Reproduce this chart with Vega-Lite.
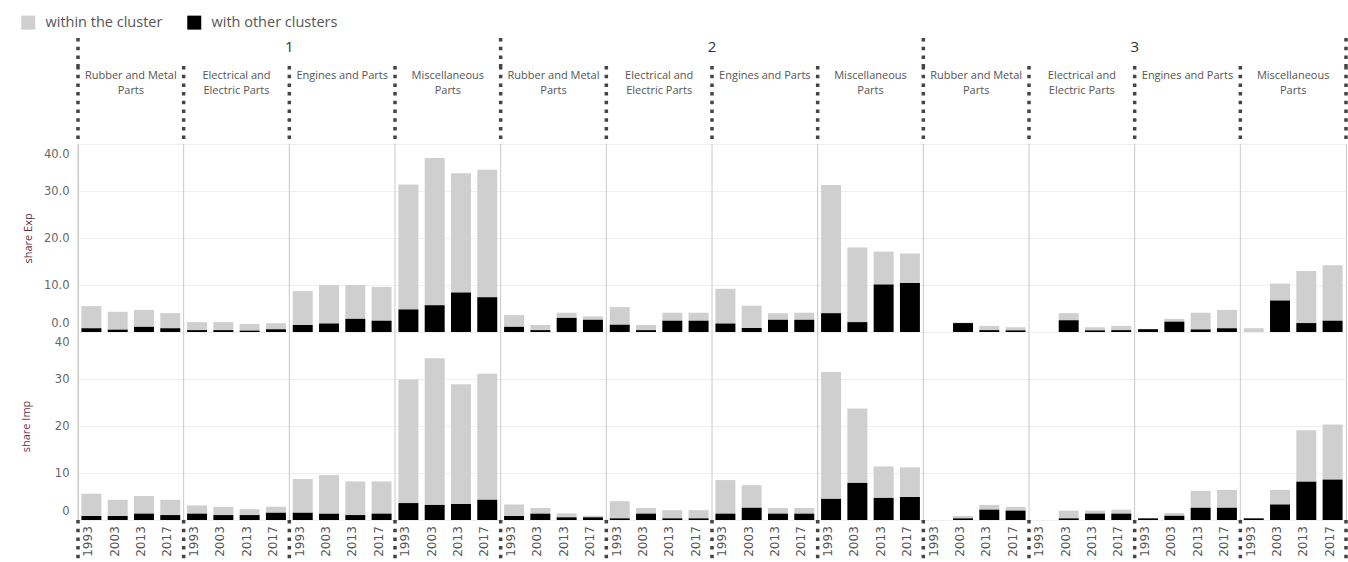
{
  "$schema": "https://vega.github.io/schema/vega-lite/v6.json",
  "padding": {"left": 19, "top": 14, "right": 0, "bottom": 0},
  "spacing": 0,
  "bounds": "flush",
  "config": {
    "view": {"stroke": null},
    "font": "Open Sans",
    "text": {"font": "Open Sans"}
  },
  "resolve": {
    "scale": {"y": "independent", "color": "independent"},
    "axis": {"y": "independent"},
    "legend": {"color": "independent"}
  },
  "datasets": {
    "panels": [
      {"p": "1-1", "c": "1", "k": 1, "lab": "Rubber and Metal\nParts"},
      {"p": "1-2", "c": "1", "k": 2, "lab": "Electrical and\nElectric Parts"},
      {"p": "1-3", "c": "1", "k": 3, "lab": "Engines and Parts"},
      {"p": "1-4", "c": "1", "k": 4, "lab": "Miscellaneous\nParts"},
      {"p": "2-1", "c": "2", "k": 1, "lab": "Rubber and Metal\nParts"},
      {"p": "2-2", "c": "2", "k": 2, "lab": "Electrical and\nElectric Parts"},
      {"p": "2-3", "c": "2", "k": 3, "lab": "Engines and Parts"},
      {"p": "2-4", "c": "2", "k": 4, "lab": "Miscellaneous\nParts"},
      {"p": "3-1", "c": "3", "k": 1, "lab": "Rubber and Metal\nParts"},
      {"p": "3-2", "c": "3", "k": 2, "lab": "Electrical and\nElectric Parts"},
      {"p": "3-3", "c": "3", "k": 3, "lab": "Engines and Parts"},
      {"p": "3-4", "c": "3", "k": 4, "lab": "Miscellaneous\nParts"}
    ],
    "bars": [
      {"p": "1-1", "y": "1993", "m": "Exp", "within": 4.7, "other": 0.8},
      {"p": "1-1", "y": "2003", "m": "Exp", "within": 3.8, "other": 0.5},
      {"p": "1-1", "y": "2013", "m": "Exp", "within": 3.6, "other": 1.1},
      {"p": "1-1", "y": "2017", "m": "Exp", "within": 3.2, "other": 0.8},
      {"p": "1-2", "y": "1993", "m": "Exp", "within": 1.7, "other": 0.4},
      {"p": "1-2", "y": "2003", "m": "Exp", "within": 1.7, "other": 0.4},
      {"p": "1-2", "y": "2013", "m": "Exp", "within": 1.4, "other": 0.3},
      {"p": "1-2", "y": "2017", "m": "Exp", "within": 1.25, "other": 0.6},
      {"p": "1-3", "y": "1993", "m": "Exp", "within": 7.2, "other": 1.5},
      {"p": "1-3", "y": "2003", "m": "Exp", "within": 8.2, "other": 1.8},
      {"p": "1-3", "y": "2013", "m": "Exp", "within": 7.2, "other": 2.8},
      {"p": "1-3", "y": "2017", "m": "Exp", "within": 7.2, "other": 2.4},
      {"p": "1-4", "y": "1993", "m": "Exp", "within": 26.6, "other": 4.8},
      {"p": "1-4", "y": "2003", "m": "Exp", "within": 31.3, "other": 5.7},
      {"p": "1-4", "y": "2013", "m": "Exp", "within": 25.4, "other": 8.4},
      {"p": "1-4", "y": "2017", "m": "Exp", "within": 27.1, "other": 7.4},
      {"p": "2-1", "y": "1993", "m": "Exp", "within": 2.5, "other": 1.1},
      {"p": "2-1", "y": "2003", "m": "Exp", "within": 1.1, "other": 0.4},
      {"p": "2-1", "y": "2013", "m": "Exp", "within": 1.1, "other": 3.0},
      {"p": "2-1", "y": "2017", "m": "Exp", "within": 0.7, "other": 2.6},
      {"p": "2-2", "y": "1993", "m": "Exp", "within": 3.75, "other": 1.55},
      {"p": "2-2", "y": "2003", "m": "Exp", "within": 1.1, "other": 0.4},
      {"p": "2-2", "y": "2013", "m": "Exp", "within": 1.7, "other": 2.4},
      {"p": "2-2", "y": "2017", "m": "Exp", "within": 1.7, "other": 2.4},
      {"p": "2-3", "y": "1993", "m": "Exp", "within": 7.4, "other": 1.8},
      {"p": "2-3", "y": "2003", "m": "Exp", "within": 4.75, "other": 0.85},
      {"p": "2-3", "y": "2013", "m": "Exp", "within": 1.4, "other": 2.6},
      {"p": "2-3", "y": "2017", "m": "Exp", "within": 1.5, "other": 2.6},
      {"p": "2-4", "y": "1993", "m": "Exp", "within": 27.3, "other": 4.0},
      {"p": "2-4", "y": "2003", "m": "Exp", "within": 15.9, "other": 2.1},
      {"p": "2-4", "y": "2013", "m": "Exp", "within": 7.0, "other": 10.1},
      {"p": "2-4", "y": "2017", "m": "Exp", "within": 6.3, "other": 10.4},
      {"p": "3-1", "y": "1993", "m": "Exp", "within": 0, "other": 0},
      {"p": "3-1", "y": "2003", "m": "Exp", "within": 0.1, "other": 1.9},
      {"p": "3-1", "y": "2013", "m": "Exp", "within": 0.9, "other": 0.4},
      {"p": "3-1", "y": "2017", "m": "Exp", "within": 0.65, "other": 0.35},
      {"p": "3-2", "y": "1993", "m": "Exp", "within": 0, "other": 0},
      {"p": "3-2", "y": "2003", "m": "Exp", "within": 1.5, "other": 2.5},
      {"p": "3-2", "y": "2013", "m": "Exp", "within": 0.65, "other": 0.35},
      {"p": "3-2", "y": "2017", "m": "Exp", "within": 0.9, "other": 0.4},
      {"p": "3-3", "y": "1993", "m": "Exp", "within": 0.05, "other": 0.6},
      {"p": "3-3", "y": "2003", "m": "Exp", "within": 0.6, "other": 2.2},
      {"p": "3-3", "y": "2013", "m": "Exp", "within": 3.55, "other": 0.55},
      {"p": "3-3", "y": "2017", "m": "Exp", "within": 3.9, "other": 0.8},
      {"p": "3-4", "y": "1993", "m": "Exp", "within": 0.8, "other": 0},
      {"p": "3-4", "y": "2003", "m": "Exp", "within": 3.6, "other": 6.7},
      {"p": "3-4", "y": "2013", "m": "Exp", "within": 11.1, "other": 1.9},
      {"p": "3-4", "y": "2017", "m": "Exp", "within": 11.8, "other": 2.4},
      {"p": "1-1", "y": "1993", "m": "Imp", "within": 4.75, "other": 0.85},
      {"p": "1-1", "y": "2003", "m": "Imp", "within": 3.45, "other": 0.85},
      {"p": "1-1", "y": "2013", "m": "Imp", "within": 3.75, "other": 1.35},
      {"p": "1-1", "y": "2017", "m": "Imp", "within": 3.25, "other": 1.05},
      {"p": "1-2", "y": "1993", "m": "Imp", "within": 1.75, "other": 1.35},
      {"p": "1-2", "y": "2003", "m": "Imp", "within": 1.75, "other": 1.05},
      {"p": "1-2", "y": "2013", "m": "Imp", "within": 1.25, "other": 1.05},
      {"p": "1-2", "y": "2017", "m": "Imp", "within": 1.25, "other": 1.55},
      {"p": "1-3", "y": "1993", "m": "Imp", "within": 7.15, "other": 1.55},
      {"p": "1-3", "y": "2003", "m": "Imp", "within": 8.25, "other": 1.35},
      {"p": "1-3", "y": "2013", "m": "Imp", "within": 7.15, "other": 1.05},
      {"p": "1-3", "y": "2017", "m": "Imp", "within": 6.85, "other": 1.35},
      {"p": "1-4", "y": "1993", "m": "Imp", "within": 26.3, "other": 3.6},
      {"p": "1-4", "y": "2003", "m": "Imp", "within": 31.2, "other": 3.2},
      {"p": "1-4", "y": "2013", "m": "Imp", "within": 25.5, "other": 3.4},
      {"p": "1-4", "y": "2017", "m": "Imp", "within": 26.8, "other": 4.3},
      {"p": "2-1", "y": "1993", "m": "Imp", "within": 2.45, "other": 0.85},
      {"p": "2-1", "y": "2003", "m": "Imp", "within": 1.2, "other": 1.35},
      {"p": "2-1", "y": "2013", "m": "Imp", "within": 0.83, "other": 0.57},
      {"p": "2-1", "y": "2017", "m": "Imp", "within": 0.33, "other": 0.57},
      {"p": "2-2", "y": "1993", "m": "Imp", "within": 3.65, "other": 0.35},
      {"p": "2-2", "y": "2003", "m": "Imp", "within": 1.2, "other": 1.35},
      {"p": "2-2", "y": "2013", "m": "Imp", "within": 1.75, "other": 0.35},
      {"p": "2-2", "y": "2017", "m": "Imp", "within": 1.75, "other": 0.35},
      {"p": "2-3", "y": "1993", "m": "Imp", "within": 7.15, "other": 1.35},
      {"p": "2-3", "y": "2003", "m": "Imp", "within": 4.8, "other": 2.6},
      {"p": "2-3", "y": "2013", "m": "Imp", "within": 1.2, "other": 1.35},
      {"p": "2-3", "y": "2017", "m": "Imp", "within": 1.2, "other": 1.35},
      {"p": "2-4", "y": "1993", "m": "Imp", "within": 27.0, "other": 4.5},
      {"p": "2-4", "y": "2003", "m": "Imp", "within": 15.8, "other": 7.9},
      {"p": "2-4", "y": "2013", "m": "Imp", "within": 6.7, "other": 4.7},
      {"p": "2-4", "y": "2017", "m": "Imp", "within": 6.3, "other": 4.9},
      {"p": "3-1", "y": "1993", "m": "Imp", "within": 0, "other": 0},
      {"p": "3-1", "y": "2003", "m": "Imp", "within": 0.5, "other": 0.35},
      {"p": "3-1", "y": "2013", "m": "Imp", "within": 1.0, "other": 2.2},
      {"p": "3-1", "y": "2017", "m": "Imp", "within": 0.8, "other": 2.0},
      {"p": "3-2", "y": "1993", "m": "Imp", "within": 0, "other": 0},
      {"p": "3-2", "y": "2003", "m": "Imp", "within": 1.65, "other": 0.35},
      {"p": "3-2", "y": "2013", "m": "Imp", "within": 0.65, "other": 1.35},
      {"p": "3-2", "y": "2017", "m": "Imp", "within": 0.85, "other": 1.35},
      {"p": "3-3", "y": "1993", "m": "Imp", "within": 0.1, "other": 0.35},
      {"p": "3-3", "y": "2003", "m": "Imp", "within": 0.6, "other": 0.9},
      {"p": "3-3", "y": "2013", "m": "Imp", "within": 3.6, "other": 2.6},
      {"p": "3-3", "y": "2017", "m": "Imp", "within": 3.8, "other": 2.6},
      {"p": "3-4", "y": "1993", "m": "Imp", "within": 0.05, "other": 0.35},
      {"p": "3-4", "y": "2003", "m": "Imp", "within": 3.1, "other": 3.3},
      {"p": "3-4", "y": "2013", "m": "Imp", "within": 10.95, "other": 8.15},
      {"p": "3-4", "y": "2017", "m": "Imp", "within": 11.7, "other": 8.6}
    ]
  },
  "vconcat": [
    {
      "width": 1268,
      "height": 28,
      "layer": [
        {
          "data": {"name": "panels"},
          "transform": [{"filter": "datum.k == 1"}],
          "mark": {"type": "rule", "color": "#444444", "strokeWidth": 3.5, "strokeDash": [3.5, 5.2]},
          "encoding": {
            "x": {"field": "p", "type": "nominal", "bandPosition": 0, "axis": null,
                  "scale": {"domain": ["1-1","1-2","1-3","1-4","2-1","2-2","2-3","2-4","3-1","3-2","3-3","3-4"], "paddingInner": 0, "paddingOuter": 0}}
          }
        },
        {
          "data": {"name": "panels"},
          "transform": [{"filter": "datum.p == '3-4'"}],
          "mark": {"type": "rule", "color": "#444444", "strokeWidth": 3.5, "strokeDash": [3.5, 5.2]},
          "encoding": {
            "x": {"field": "p", "type": "nominal", "bandPosition": 1}
          }
        },
        {
          "data": {"name": "panels"},
          "transform": [{"filter": "datum.k == 3"}],
          "mark": {"type": "text", "fontSize": 15, "color": "#333333", "dy": -5},
          "encoding": {
            "x": {"field": "p", "type": "nominal", "bandPosition": 0},
            "text": {"field": "c"}
          }
        }
      ]
    },
    {
      "width": 1268,
      "height": 78,
      "layer": [
        {
          "data": {"name": "panels"},
          "mark": {"type": "rule", "color": "#444444", "strokeWidth": 3.5, "strokeDash": [3.5, 5.2]},
          "encoding": {
            "x": {"field": "p", "type": "nominal", "bandPosition": 0, "axis": null,
                  "scale": {"domain": ["1-1","1-2","1-3","1-4","2-1","2-2","2-3","2-4","3-1","3-2","3-3","3-4"], "paddingInner": 0, "paddingOuter": 0}}
          }
        },
        {
          "data": {"name": "panels"},
          "transform": [{"filter": "datum.p == '3-4'"}],
          "mark": {"type": "rule", "color": "#444444", "strokeWidth": 3.5, "strokeDash": [3.5, 5.2]},
          "encoding": {
            "x": {"field": "p", "type": "nominal", "bandPosition": 1}
          }
        },
        {
          "data": {"name": "panels"},
          "mark": {"type": "text", "fontSize": 11, "color": "#555555", "baseline": "top", "lineBreak": "\n", "lineHeight": 15, "dy": -35},
          "encoding": {
            "x": {"field": "p", "type": "nominal", "bandPosition": 0.5},
            "text": {"field": "lab"}
          }
        }
      ]
    },
    {
      "width": 1268,
      "height": 188,
      "view": {"stroke": "#c8c8c8", "strokeWidth": 1},
      "layer": [
        {
          "data": {"name": "bars"},
          "transform": [
            {"filter": "datum.m == 'Exp'"},
            {"fold": ["within", "other"], "as": ["f", "v"]}
          ],
          "mark": {"type": "bar"},
          "encoding": {
            "x": {"field": "p", "type": "nominal", "axis": null,
                  "scale": {"domain": ["1-1","1-2","1-3","1-4","2-1","2-2","2-3","2-4","3-1","3-2","3-3","3-4"], "paddingInner": 0, "paddingOuter": 0}},
            "xOffset": {"field": "y", "type": "nominal",
                  "scale": {"domain": ["1993","2003","2013","2017"], "paddingInner": 0.24, "paddingOuter": 0.13}},
            "y": {"field": "v", "type": "quantitative", "stack": "zero",
                  "scale": {"domain": [0, 40], "nice": false},
                  "axis": {"title": "share Exp", "values": [0, 10, 20, 30, 40], "format": ".1f", "labelFlush": true, "labelFlushOffset": -4,
                           "grid": true, "gridColor": "#efefef", "domain": false, "ticks": false,
                           "labelColor": "#666666", "labelFont": "DejaVu Sans", "labelFontSize": 11.5, "labelPadding": 9,
                           "titleColor": "#6b3040", "titleFont": "Open Sans", "titleFontSize": 11, "titleFontWeight": "normal", "titlePadding": 10}},
            "color": {"field": "f", "type": "nominal",
                      "scale": {"domain": ["within", "other"], "range": ["#cfcfcf", "#000000"]},
                      "legend": {"orient": "none", "legendX": -57, "legendY": -129, "direction": "horizontal", "title": null,
                                 "symbolType": "square", "symbolSize": 196, "symbolStrokeWidth": 0, "symbolOpacity": 1,
                                 "labelFont": "Open Sans", "labelFontSize": 14.5, "labelColor": "#555555", "labelOffset": 10,
                                 "columnPadding": 24,
                                 "labelExpr": "datum.label == 'within' ? 'within the cluster' : 'with other clusters'"}},
            "order": {"field": "f", "type": "ordinal", "sort": "ascending"}
          }
        },
        {
          "data": {"name": "panels"},
          "mark": {"type": "rule", "color": "#c8c8c8", "strokeWidth": 1},
          "encoding": {
            "x": {"field": "p", "type": "nominal", "bandPosition": 0}
          }
        }
      ]
    },
    {
      "width": 1268,
      "height": 188,
      "view": {"stroke": "#c8c8c8", "strokeWidth": 1},
      "layer": [
        {
          "data": {"name": "bars"},
          "transform": [
            {"filter": "datum.m == 'Imp'"},
            {"fold": ["within", "other"], "as": ["f", "v"]}
          ],
          "mark": {"type": "bar"},
          "encoding": {
            "x": {"field": "p", "type": "nominal", "axis": null,
                  "scale": {"domain": ["1-1","1-2","1-3","1-4","2-1","2-2","2-3","2-4","3-1","3-2","3-3","3-4"], "paddingInner": 0, "paddingOuter": 0}},
            "xOffset": {"field": "y", "type": "nominal",
                  "scale": {"domain": ["1993","2003","2013","2017"], "paddingInner": 0.24, "paddingOuter": 0.13}},
            "y": {"field": "v", "type": "quantitative", "stack": "zero",
                  "scale": {"domain": [0, 40], "nice": false},
                  "axis": {"title": "share Imp", "values": [0, 10, 20, 30, 40], "format": "d", "labelFlush": true, "labelFlushOffset": -4,
                           "grid": true, "gridColor": "#efefef", "domain": false, "ticks": false,
                           "labelColor": "#666666", "labelFont": "DejaVu Sans", "labelFontSize": 11.5, "labelPadding": 9,
                           "titleColor": "#6b3040", "titleFont": "Open Sans", "titleFontSize": 11, "titleFontWeight": "normal", "titlePadding": 23}},
            "color": {"field": "f", "type": "nominal",
                      "scale": {"domain": ["within", "other"], "range": ["#cfcfcf", "#000000"]},
                      "legend": null},
            "order": {"field": "f", "type": "ordinal", "sort": "ascending"}
          }
        },
        {
          "data": {"name": "panels"},
          "mark": {"type": "rule", "color": "#c8c8c8", "strokeWidth": 1},
          "encoding": {
            "x": {"field": "p", "type": "nominal", "bandPosition": 0}
          }
        }
      ]
    },
    {
      "width": 1268,
      "height": 43,
      "layer": [
        {
          "data": {"name": "panels"},
          "mark": {"type": "rule", "color": "#444444", "strokeWidth": 3.5, "strokeDash": [3.5, 5.2]},
          "encoding": {
            "x": {"field": "p", "type": "nominal", "bandPosition": 0, "axis": null,
                  "scale": {"domain": ["1-1","1-2","1-3","1-4","2-1","2-2","2-3","2-4","3-1","3-2","3-3","3-4"], "paddingInner": 0, "paddingOuter": 0}}
          }
        },
        {
          "data": {"name": "panels"},
          "transform": [{"filter": "datum.p == '3-4'"}],
          "mark": {"type": "rule", "color": "#444444", "strokeWidth": 3.5, "strokeDash": [3.5, 5.2]},
          "encoding": {
            "x": {"field": "p", "type": "nominal", "bandPosition": 1}
          }
        },
        {
          "data": {"name": "bars"},
          "transform": [{"filter": "datum.m == 'Exp'"}],
          "mark": {"type": "text", "angle": 270, "font": "DejaVu Sans", "fontSize": 12, "color": "#555555", "dy": -3},
          "encoding": {
            "x": {"field": "p", "type": "nominal"},
            "xOffset": {"field": "y", "type": "nominal",
                  "scale": {"domain": ["1993","2003","2013","2017"], "paddingInner": 0.24, "paddingOuter": 0.13}},
            "text": {"field": "y"}
          }
        }
      ]
    }
  ]
}
